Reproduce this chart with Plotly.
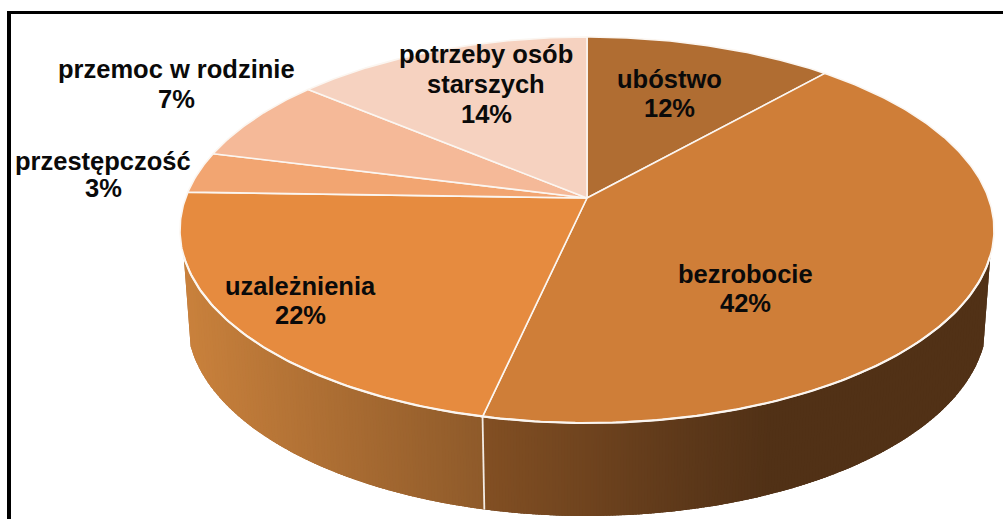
import math
import plotly.graph_objects as go

# --- data (clockwise from 12 o'clock) ---
categories = ["ubóstwo", "bezrobocie", "uzależnienia", "przestępczość", "przemoc w rodzinie", "potrzeby osób starszych"]
values = [11.6, 41.9, 22.0, 3.45, 7.1, 13.95]
label_lines = [["ubóstwo"], ["bezrobocie"], ["uzależnienia"], ["przestępczość"], ["przemoc w rodzinie"], ["potrzeby osób", "starszych"]]
top_colors = ["#b06d32", "#cf7e38", "#e68b3f", "#f2a571", "#f5b998", "#f6d2c0"]
label_x = [669, 745, 300, 103, 176, 486]
label_y = [79, 274, 286, 161, 69, 54]
line_gap = [29, 29, 29, 27, 30, 30]

W, H = 1003, 519
# projection of the tilted disc
AX, AY = 587.0, 198.0      # apex of the wedges
CY, RX, RY = 230.0, 407.0, 193.0   # top ellipse
BCY, BRX, BRY = 320.0, 400.0, 196.0  # bottom ellipse
up, down = AY - (CY - RY), (CY + RY) - AY
c = (down - up) / (down + up)
b = up * (1 + c)
a = RX * math.sqrt(1 - c * c)


def project(frac):
    t = 2 * math.pi * frac
    X, Y = math.sin(t), math.cos(t)
    return AX + a * X / (1 + c * Y), AY - b * Y / (1 + c * Y)


def lerp_hex(c1, c2, t):
    p = [int(c1[i:i + 2], 16) for i in (1, 3, 5)]
    q = [int(c2[i:i + 2], 16) for i in (1, 3, 5)]
    return "rgb(%d,%d,%d)" % tuple(round(u + (v - u) * t) for u, v in zip(p, q))


def ramp(x, stops):
    if x <= stops[0][0]:
        return lerp_hex(stops[0][1], stops[0][1], 0)
    for (x0, c0), (x1, c1) in zip(stops, stops[1:]):
        if x <= x1:
            return lerp_hex(c0, c1, (x - x0) / (x1 - x0))
    return lerp_hex(stops[-1][1], stops[-1][1], 0)


def wall_polygon(p_start, p_end, n):
    ph = [p_start + (p_end - p_start) * k / n for k in range(n + 1)]
    xs = [AX + RX * math.cos(p) for p in ph] + [AX + BRX * math.cos(p) for p in reversed(ph)]
    ys = [CY + RY * math.sin(p) for p in ph] + [BCY + BRY * math.sin(p) for p in reversed(ph)]
    return xs + xs[:1], ys + ys[:1]


fig = go.Figure()

# wedge boundaries
total = sum(values)
bounds = [0.0]
for v in values:
    bounds.append(bounds[-1] + v / total)

# side wall (front half)
split_frac = bounds[2]
split_x, split_y = project(split_frac)
left_stops = [(183, "#c9813c"), (484, "#8e5a2a")]
right_stops = [(484, "#824f23"), (680, "#5e391a"), (770, "#513116")]
phi0 = math.asin(26 / RY)
phi_s = math.acos((split_x - AX) / RX)

# solid underlay so that the thin strips near the ends leave no seams
for (p_a, p_b, col) in [(phi0, phi_s, "#513116"), (phi_s, math.pi - phi0, "#a96a30")]:
    xs, ys = wall_polygon(p_a, p_b, 120)
    fig.add_trace(go.Scatter(x=xs, y=ys, mode="lines", fill="toself", fillcolor=col,
                             line=dict(width=0), hoverinfo="skip", showlegend=False))

# gradient strips, stepped evenly in x
xgrid = list(range(int(AX + RX * math.cos(math.pi - phi0)), int(AX + RX * math.cos(phi0)) + 1, 3))
for x0 in xgrid:
    x1 = x0 + 5
    c0 = max(-1.0, min(1.0, (x0 - AX) / RX))
    c1 = max(-1.0, min(1.0, (x1 - AX) / RX))
    p1 = min(math.acos(c0), math.pi - phi0)
    p2 = max(math.acos(c1), phi0)
    if x0 < split_x:
        p2 = max(p2, phi_s)
    elif x0 <= split_x + 3:
        p1 = min(p1, phi_s)
    xm = x0 + 1.5
    col = ramp(xm, left_stops) if xm < split_x else ramp(xm, right_stops)
    xs, ys = wall_polygon(p1, p2, 2)
    fig.add_trace(go.Scatter(x=xs, y=ys, mode="lines", fill="toself", fillcolor=col,
                             line=dict(width=0), hoverinfo="skip", showlegend=False))

# separator on the side wall
fig.add_trace(go.Scatter(x=[split_x, AX + BRX * math.cos(phi_s)],
                         y=[split_y, BCY + BRY * math.sin(phi_s)], mode="lines",
                         line=dict(color="#f4ece4", width=1.8), hoverinfo="skip", showlegend=False))

# top surface wedges
for i, name in enumerate(categories):
    n = max(4, int(values[i] * 6))
    fr = [bounds[i] + (bounds[i + 1] - bounds[i]) * k / n for k in range(n + 1)]
    pts = [project(f) for f in fr]
    xs = [AX] + [p[0] for p in pts] + [AX]
    ys = [AY] + [p[1] for p in pts] + [AY]
    fig.add_trace(go.Scatter(x=xs, y=ys, mode="lines", fill="toself", fillcolor=top_colors[i],
                             line=dict(color="#fbf6f1", width=1.6), name=name,
                             hoverinfo="name", showlegend=False))

# white rim between top and wall
rim = [phi0 + (math.pi - 2 * phi0) * k / 200 for k in range(201)]
fig.add_trace(go.Scatter(x=[AX + RX * math.cos(p) for p in rim], y=[CY + RY * math.sin(p) for p in rim],
                         mode="lines", line=dict(color="#fbf6f1", width=2.2), hoverinfo="skip", showlegend=False))

# labels, one annotation per line for exact spacing
for lines, v, lx, ly, gap in zip(label_lines, values, label_x, label_y, line_gap):
    for j, txt in enumerate(lines + [f"{round(v)}%"]):
        fig.add_annotation(x=lx, y=ly + j * gap, xref="x", yref="y", text=txt, showarrow=False,
                           align="center",
                           font=dict(family="Liberation Sans", size=25.5, color="#0a0a0a", weight="bold"))

# frame
fig.add_shape(type="rect", x0=7, x1=11, y0=11, y1=H, fillcolor="black", line_width=0)
fig.add_shape(type="rect", x0=7, x1=W, y0=11, y1=14, fillcolor="black", line_width=0)

fig.update_layout(width=W, height=H, margin=dict(l=0, r=0, t=0, b=0), paper_bgcolor="white",
                  plot_bgcolor="white", showlegend=False,
                  xaxis=dict(range=[0, W], visible=False, fixedrange=True),
                  yaxis=dict(range=[H, 0], visible=False, fixedrange=True))
fig.write_html("out.html", config={"displayModeBar": False},
               post_script="document.body.style.margin='0';document.body.style.overflow='hidden';")
